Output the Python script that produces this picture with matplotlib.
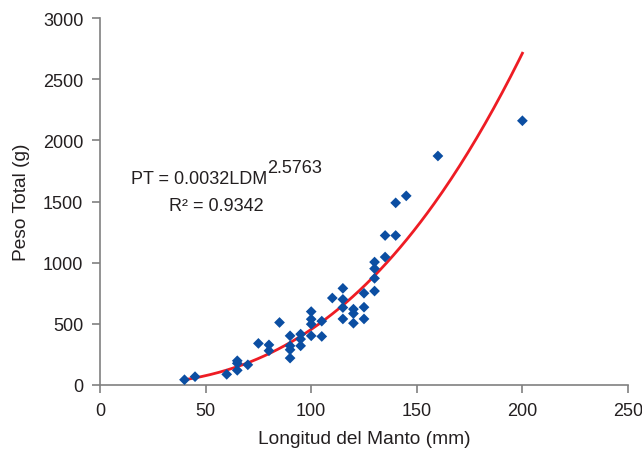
import numpy as np
import matplotlib
matplotlib.use('Agg')
import matplotlib.pyplot as plt

plt.rcParams['font.family'] = ['Liberation Sans', 'DejaVu Sans']

# longitud del manto (mm) y peso total (g)
ldm = [40, 45, 60, 65, 65, 65, 70, 75, 80, 80, 85,
       90, 90, 90, 90, 95, 95, 95, 100, 100, 100, 100,
       105, 105, 110, 115, 115, 115, 115, 120, 120, 120,
       125, 125, 125, 130, 130, 130, 130, 135, 135,
       140, 140, 145, 160, 200]
peso = [43, 68, 87, 198, 177, 120, 165, 340, 328, 280, 511,
        402, 320, 288, 220, 416, 375, 320, 600, 538, 497, 402,
        522, 397, 711, 790, 700, 633, 540, 620, 584, 505,
        750, 636, 540, 1005, 951, 872, 768, 1222, 1046,
        1489, 1222, 1546, 1872, 2160]

# ajuste potencial mostrado en la figura
coef_a = 0.0032
coef_b = 2.5763

txt = '#231f20'

fig = plt.figure(figsize=(6.42, 4.56), dpi=100)
ax = fig.add_axes([100 / 642, 70 / 456, 528 / 642, 367 / 456])

xfit = np.linspace(min(ldm), max(ldm), 200)
ax.plot(xfit, coef_a * xfit ** coef_b, color='#ee1c24', lw=2, zorder=2)
ax.scatter(ldm, peso, marker='D', s=30, color='#0b4ea2', edgecolors='none', zorder=3)

ax.set_xlim(0, 250)
ax.set_ylim(0, 3000)
ax.set_xticks(range(0, 251, 50))
ax.set_yticks(range(0, 3001, 500))

for side in ['top', 'right']:
    ax.spines[side].set_visible(False)
for side in ['left', 'bottom']:
    ax.spines[side].set_color('#808080')
    ax.spines[side].set_linewidth(1.2)
ax.tick_params(direction='out', length=6, width=1.2, color='#808080',
               labelsize=13, labelcolor=txt, pad=6)

ax.set_xlabel('Longitud del Manto (mm)', fontsize=13.8, color=txt, labelpad=8)
ax.set_ylabel('Peso Total (g)', fontsize=13.8, color=txt, labelpad=9)

# ecuacion del ajuste
t1 = ax.text(14.6, 1690, 'PT = 0.0032LDM', fontsize=13, color=txt, va='center')
ax.annotate('2.5763', xy=(1, 0.5), xycoords=t1, xytext=(0, 7.5),
            textcoords='offset points', fontsize=13, color=txt, va='center')
ax.text(32.5, 1465, 'R² = 0.9342', fontsize=13, color=txt, va='center')

fig.savefig('out.png', dpi=100)
